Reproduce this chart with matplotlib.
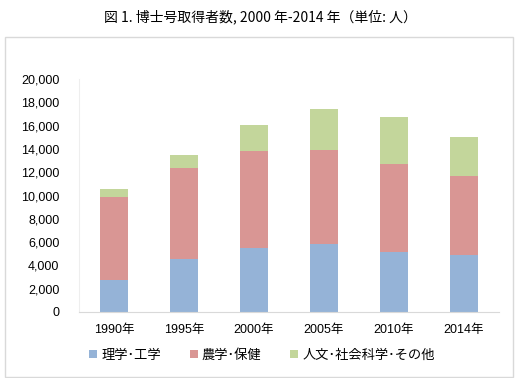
import matplotlib
matplotlib.use("Agg")
import matplotlib.pyplot as plt
from matplotlib.patches import Rectangle
from matplotlib.ticker import FuncFormatter

plt.rcParams['font.family'] = ['Noto Sans CJK JP', 'DejaVu Sans']

years = ['1990年', '1995年', '2000年', '2005年', '2010年', '2014年']
science = [2750, 4520, 5520, 5810, 5180, 4890]
agri_health = [7150, 7810, 8300, 8070, 7550, 6780]
humanities = [700, 1170, 2230, 3520, 4030, 3350]
labels = ['理学･工学', '農学･保健', '人文･社会科学･その他']
colors = ['#95B3D7', '#D99694', '#C3D69B']


def main():
  fig = plt.figure(figsize=(5.2, 3.78), dpi=100)
  # outer frame
  fig.patches.append(Rectangle((5 / 520, 1 / 378), 508 / 520, 340 / 378,
                               transform=fig.transFigure, fill=False,
                               edgecolor='#D9D9D9', linewidth=1))
  fig.text(0.5, 1 - 17 / 378, '図 1. 博士号取得者数, 2000 年-2014 年（単位: 人）',
           ha='center', va='center', fontsize=10)

  ax = fig.add_axes([79 / 520, 1 - 312 / 378, 420 / 520, 233 / 378])
  x = range(len(years))
  bottom2 = [a + b for a, b in zip(science, agri_health)]
  ax.bar(x, science, width=0.39, color=colors[0], label=labels[0])
  ax.bar(x, agri_health, width=0.39, bottom=science, color=colors[1], label=labels[1])
  ax.bar(x, humanities, width=0.39, bottom=bottom2, color=colors[2], label=labels[2])

  ax.set_xlim(-0.5, len(years) - 0.5)
  ax.set_ylim(0, 20000)
  ax.set_yticks(range(0, 20001, 2000))
  ax.yaxis.set_major_formatter(FuncFormatter(lambda v, p: f'{int(v):,}'))
  ax.set_xticks(list(x))
  ax.set_xticklabels(years)
  ax.tick_params(axis='both', length=0, labelsize=9)
  ax.tick_params(axis='x', pad=9)
  ax.tick_params(axis='y', pad=14)
  for t in ax.get_xticklabels() + ax.get_yticklabels():
    t.set_family(['Liberation Sans', 'Noto Sans CJK JP'])

  for s in ['top', 'right']:
    ax.spines[s].set_visible(False)
  ax.spines['bottom'].set_color('#D9D9D9')
  ax.spines['left'].set_color('#EEEEEE')

  ax.legend(loc='center', bbox_to_anchor=(262 / 520, 1 - 355 / 378),
            bbox_transform=fig.transFigure, ncol=3, frameon=False,
            fontsize=9.5, handlelength=0.6, handleheight=0.6,
            handletextpad=0.3, columnspacing=2.2)

  fig.savefig('out.png', dpi=100)


if __name__ == '__main__':
  main()
